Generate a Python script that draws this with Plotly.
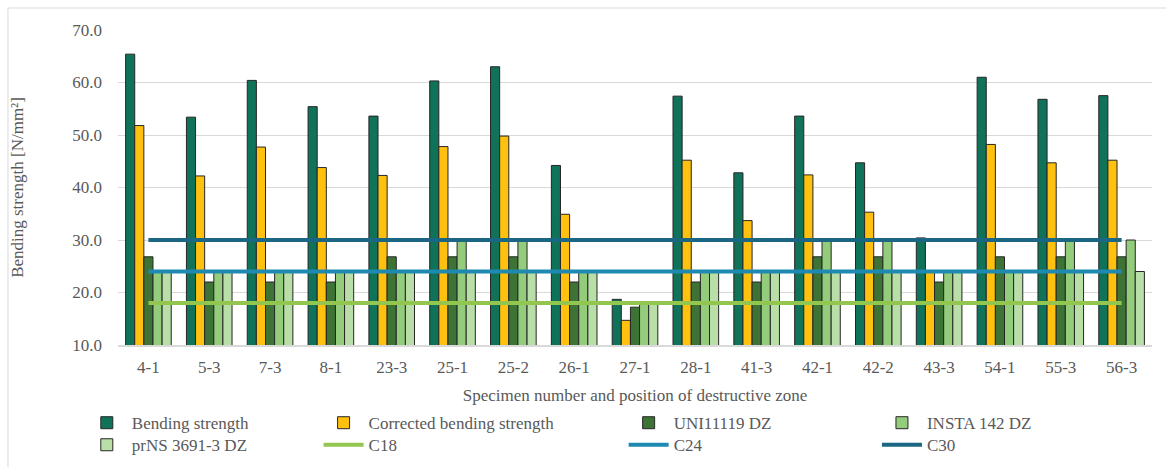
import plotly.graph_objects as go

# Specimens (number and position of destructive zone)
categories = ["4-1", "5-3", "7-3", "8-1", "23-3", "25-1", "25-2", "26-1", "27-1",
              "28-1", "41-3", "42-1", "42-2", "43-3", "54-1", "55-3", "56-3"]

# Strength values [N/mm²]
bending = [65.4, 53.4, 60.4, 55.4, 53.6, 60.3, 63.0, 44.2, 18.7,
           57.4, 42.8, 53.6, 44.7, 30.4, 61.0, 56.8, 57.5]
corrected = [51.8, 42.2, 47.7, 43.8, 42.3, 47.8, 49.8, 34.9, 14.7,
             45.2, 33.7, 42.4, 35.3, 24.0, 48.2, 44.7, 45.2]
uni11119 = [26.8, 22.0, 22.0, 22.0, 26.8, 26.8, 26.8, 22.0, 17.2,
            22.0, 22.0, 26.8, 26.8, 22.0, 26.8, 26.8, 26.8]
insta142 = [24.0, 24.0, 24.0, 24.0, 24.0, 30.0, 30.0, 24.0, 18.0,
            24.0, 24.0, 30.0, 30.0, 24.0, 24.0, 30.0, 30.0]
prns3691 = [24.0, 24.0, 24.0, 24.0, 24.0, 24.0, 24.0, 24.0, 18.0,
            24.0, 24.0, 24.0, 24.0, 24.0, 24.0, 24.0, 24.0]

# Strength class characteristic values
grades = {"C18": 18.0, "C24": 24.0, "C30": 30.0}

FONT = "Liberation Serif, Times New Roman, serif"
TEXT = "#595959"
OUTLINE = "#262626"

# legend grid: column x (paper) and row y (paper)
COL_X = [-0.035, 0.194, 0.489, 0.734]
ROW_Y = [-0.191, -0.261]

bar_series = [
    ("Bending strength", bending, "#0F7259", (0, 0)),
    ("Corrected bending strength", corrected, "#FFC10F", (1, 0)),
    ("UNI11119 DZ", uni11119, "#3D7436", (2, 0)),
    ("INSTA 142 DZ", insta142, "#93CD7B", (3, 0)),
    ("prNS 3691-3 DZ", prns3691, "#B9DEA7", (0, 1)),
]
line_series = [
    ("C18", "#92C64F", (1, 1)),
    ("C24", "#1F8AB1", (2, 1)),
    ("C30", "#1B6682", (3, 1)),
]

legend_style = dict(
    orientation="v", xanchor="left", yanchor="top",
    font=dict(family=FONT, size=17, color=TEXT),
    bgcolor="rgba(0,0,0,0)", itemwidth=40,
)

fig = go.Figure()
legends = {}
counter = [1]


def legend_id(pos):
    # one single-entry legend per grid cell
    counter[0] += 1
    lid = f"legend{counter[0]}"
    col, row = pos
    legends[lid] = dict(x=COL_X[col], y=ROW_Y[row], **legend_style)
    return lid


for name, vals, color, pos in bar_series:
    fig.add_trace(go.Bar(
        x=categories, y=vals, name=name, legend=legend_id(pos),
        marker=dict(color=color, line=dict(color=OUTLINE, width=1)),
    ))
for name, color, pos in line_series:
    fig.add_trace(go.Scatter(
        x=categories, y=[grades[name]] * len(categories), name=name,
        legend=legend_id(pos),
        mode="lines", line=dict(color=color, width=4),
    ))

fig.update_layout(
    width=1166, height=467,
    margin=dict(l=118, r=14, t=30, b=122, autoexpand=False),
    paper_bgcolor="white", plot_bgcolor="white",
    font=dict(family=FONT, size=17, color=TEXT),
    barmode="group", bargap=0.25, bargroupgap=0,
    xaxis=dict(
        type="category", showline=True, linecolor="#D9D9D9", linewidth=1.5,
        ticks="", showgrid=False, ticklabelstandoff=6,
        tickfont=dict(family=FONT, size=17, color=TEXT),
        title=dict(text="Specimen number and position of destructive zone",
                   font=dict(family=FONT, size=17, color=TEXT), standoff=13),
    ),
    yaxis=dict(
        range=[10, 70], dtick=10, tickformat=".1f",
        showgrid=True, gridcolor="#D9D9D9", gridwidth=1.3,
        zeroline=False, showline=False, ticks="",
        tickfont=dict(family=FONT, size=17, color=TEXT),
        ticklabelstandoff=15,
        title=dict(text="Bending strength [N/mm²]",
                   font=dict(family=FONT, size=17, color=TEXT), standoff=44),
    ),
    shapes=[dict(
        type="rect", xref="paper", yref="paper",
        x0=-0.1064, x1=1.03, y0=-0.6, y1=1.0698,
        line=dict(color="#D9D9D9", width=1), layer="below",
    )],
    **legends,
)

fig.write_html("out.html")
